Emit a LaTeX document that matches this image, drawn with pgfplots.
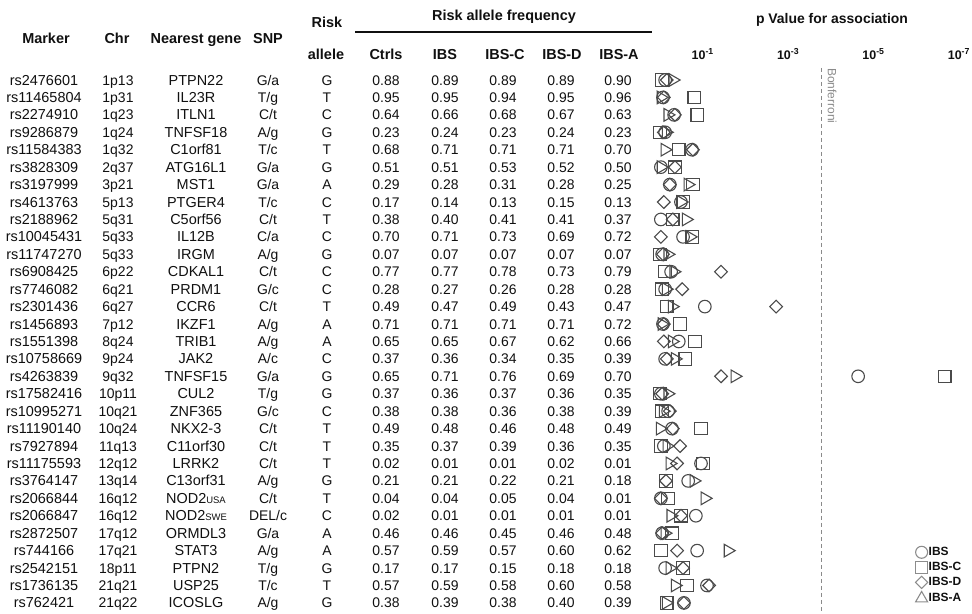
\documentclass[border=0pt]{standalone}
\usepackage{fontspec}
\setmainfont{Liberation Sans}
\usepackage{pgfplots}
\pgfplotsset{compat=1.18}
\usepackage{pgfplotstable}
\definecolor{mk}{HTML}{4A4A4A}
\definecolor{lg}{HTML}{8C8C8C}
\definecolor{bf}{HTML}{8A8A8A}
\definecolor{tx}{HTML}{101010}
\newcommand\smc[1]{{\fontsize{9.5}{9}\selectfont #1}}

% -log10(p) for each marker; pos = -row
\pgfplotstableread{
pos ibs ibsc ibsd ibsa
-1  0.12 0.05 0.16 0.30
-2  0.07 0.80 0.09 0.02
-3  0.33 0.87 0.35 0.18
-4  0.12 0.00 0.09 0.14
-5  0.75 0.44 0.77 0.11
-6  0.02 0.35 0.35 0.02
-7  0.23 0.77 0.23 0.65
-8  0.49 0.54 0.09 0.49
-9  0.02 0.30 0.30 0.61
-10 0.54 0.75 0.02 0.70
-11 0.05 0.00 0.07 0.18
-12 0.26 0.12 1.43 0.32
-13 0.12 0.05 0.52 0.14
-14 1.05 0.16 2.72 0.28
-15 0.07 0.47 0.09 0.04
-16 0.44 0.82 0.09 0.28
-17 0.12 0.59 0.16 0.35
-18 4.64 6.67 1.43 1.75
-19 0.02 0.00 0.05 0.18
-20 0.19 0.05 0.23 0.07
-21 0.28 0.96 0.30 0.00
-22 0.09 0.02 0.47 0.16
-23 0.96 1.01 0.40 0.23
-24 0.66 0.14 0.14 0.79
-25 0.02 0.19 0.02 1.05
-26 0.84 0.49 0.49 0.25
-27 0.05 0.28 0.05 0.11
-28 0.87 0.02 0.40 1.59
-29 0.12 0.54 0.54 0.23
-30 1.10 0.63 1.15 0.35
-31 0.56 0.16 0.56 0.14
}\pvals

\tikzset{
  body/.style={font=\fontsize{14}{16}\selectfont, anchor=base, inner sep=0pt, text=tx},
  head/.style={font=\fontsize{14.5}{17}\selectfont\bfseries, anchor=base, inner sep=0pt, text=tx},
}

\begin{document}
\begin{tikzpicture}
\path[use as bounding box] (0bp,0bp) rectangle (972bp,-614bp);
\begin{scope}[x=1bp,y=-1bp]
  % headers
  \node[head] at (46,43) {Marker};
  \node[head] at (117,43) {Chr};
  \node[head] at (196,43) {Nearest gene};
  \node[head] at (268,43) {SNP};
  \node[head] at (327,27) {Risk};
  \node[head] at (326,59) {allele};
  \node[head] at (504,20) {Risk allele frequency};
  \draw[line width=1.4bp, tx] (355,32) -- (652,32);
  \node[head] at (386,59) {Ctrls};
  \node[head] at (445,59) {IBS};
  \node[head] at (505,59) {IBS-C};
  \node[head] at (562,59) {IBS-D};
  \node[head] at (619,59) {IBS-A};
  \node[head, font=\fontsize{14}{17}\selectfont\bfseries] at (832,23) {p Value for association};
  % rows
  \foreach \i/\m/\c/\g/\s/\r/\fa/\fb/\fc/\fd/\fe in {
1/rs2476601/1p13/PTPN22/{G/a}/G/0.88/0.89/0.89/0.89/0.90,
2/rs11465804/1p31/IL23R/{T/g}/T/0.95/0.95/0.94/0.95/0.96,
3/rs2274910/1q23/ITLN1/{C/t}/C/0.64/0.66/0.68/0.67/0.63,
4/rs9286879/1q24/TNFSF18/{A/g}/G/0.23/0.24/0.23/0.24/0.23,
5/rs11584383/1q32/C1orf81/{T/c}/T/0.68/0.71/0.71/0.71/0.70,
6/rs3828309/2q37/ATG16L1/{G/a}/G/0.51/0.51/0.53/0.52/0.50,
7/rs3197999/3p21/MST1/{G/a}/A/0.29/0.28/0.31/0.28/0.25,
8/rs4613763/5p13/PTGER4/{T/c}/C/0.17/0.14/0.13/0.15/0.13,
9/rs2188962/5q31/C5orf56/{C/t}/T/0.38/0.40/0.41/0.41/0.37,
10/rs10045431/5q33/IL12B/{C/a}/C/0.70/0.71/0.73/0.69/0.72,
11/rs11747270/5q33/IRGM/{A/g}/G/0.07/0.07/0.07/0.07/0.07,
12/rs6908425/6p22/CDKAL1/{C/t}/C/0.77/0.77/0.78/0.73/0.79,
13/rs7746082/6q21/PRDM1/{G/c}/C/0.28/0.27/0.26/0.28/0.28,
14/rs2301436/6q27/CCR6/{C/t}/T/0.49/0.47/0.49/0.43/0.47,
15/rs1456893/7p12/IKZF1/{A/g}/A/0.71/0.71/0.71/0.71/0.72,
16/rs1551398/8q24/TRIB1/{A/g}/A/0.65/0.65/0.67/0.62/0.66,
17/rs10758669/9p24/JAK2/{A/c}/C/0.37/0.36/0.34/0.35/0.39,
18/rs4263839/9q32/TNFSF15/{G/a}/G/0.65/0.71/0.76/0.69/0.70,
19/rs17582416/10p11/CUL2/{T/g}/G/0.37/0.36/0.37/0.36/0.35,
20/rs10995271/10q21/ZNF365/{G/c}/C/0.38/0.38/0.36/0.38/0.39,
21/rs11190140/10q24/NKX2-3/{C/t}/T/0.49/0.48/0.46/0.48/0.49,
22/rs7927894/11q13/C11orf30/{C/t}/T/0.35/0.37/0.39/0.36/0.35,
23/rs11175593/12q12/LRRK2/{C/t}/T/0.02/0.01/0.01/0.02/0.01,
24/rs3764147/13q14/C13orf31/{A/g}/G/0.21/0.21/0.22/0.21/0.18,
25/rs2066844/16q12/NOD2\smc{USA}/{C/t}/T/0.04/0.04/0.05/0.04/0.01,
26/rs2066847/16q12/NOD2\smc{SWE}/{DEL/c}/C/0.02/0.01/0.01/0.01/0.01,
27/rs2872507/17q12/ORMDL3/{G/a}/A/0.46/0.46/0.45/0.46/0.48,
28/rs744166/17q21/STAT3/{A/g}/A/0.57/0.59/0.57/0.60/0.62,
29/rs2542151/18p11/PTPN2/{T/g}/G/0.17/0.17/0.15/0.18/0.18,
30/rs1736135/21q21/USP25/{T/c}/T/0.57/0.59/0.58/0.60/0.58,
31/rs762421/21q22/ICOSLG/{A/g}/G/0.38/0.39/0.38/0.40/0.39%
  }{
    \pgfmathsetmacro\yy{80+(\i-1)*17.43+5}
    \node[body, font=\fontsize{14.5}{16}\selectfont] at (44,\yy) {\m};
    \node[body] at (118,\yy) {\c};
    \node[body, font=\fontsize{14.5}{16}\selectfont] at (196,\yy) {\g};
    \node[body] at (268,\yy) {\s};
    \node[body] at (327,\yy) {\r};
    \node[body] at (386,\yy) {\fa};
    \node[body] at (445,\yy) {\fb};
    \node[body] at (503,\yy) {\fc};
    \node[body] at (561,\yy) {\fd};
    \node[body] at (618,\yy) {\fe};
  }
\end{scope}
\begin{axis}[
  at={(638.65bp,-66.06bp)}, anchor=north west,
  scale only axis, width=333.06bp, height=547.3bp,
  xmin=-0.5, xmax=7.3, ymin=-31.6, ymax=-0.2,
  axis line style={draw=none},
  major tick length=0pt,
  major tick style={draw=none},
  ytick=\empty,
  xtick={1,3,5,7},
  xticklabels={{10\textsuperscript{-1}},{10\textsuperscript{-3}},{10\textsuperscript{-5}},{10\textsuperscript{-7}}},
  xticklabel pos=upper,
  xticklabel style={anchor=center, yshift=12bp, font=\fontsize{12.5}{13}\selectfont\bfseries, text=tx, inner sep=0pt},
  clip=false,
  legend style={draw=none, fill=none, at={(axis cs:5.98,-27.74)}, anchor=north west,
    font=\fontsize{12}{12}\selectfont\bfseries, row sep=3bp, inner sep=0pt,
    nodes={inner sep=1bp, text=tx}},
  legend cell align=left,
  legend image code/.code={\draw[#1] plot coordinates {(0bp,0bp)};},
]
\addplot[forget plot, bf, line width=1.2bp, dash pattern=on 4bp off 3bp] coordinates {(3.79,-0.31) (3.79,-31.45)};
\node[rotate=-90, anchor=west, font=\fontsize{12}{12}\selectfont, text=bf, inner sep=0pt] at (axis cs:4.03,-0.31) {Bonferroni};

\addplot[forget plot, only marks, mark=o, mark size=6.3bp, mk, line width=1.1bp] table[x=ibs,y=pos]{\pvals};
\addplot[forget plot, only marks, mark=square, mark size=6.2bp, mk, line width=1.1bp] table[x=ibsc,y=pos]{\pvals};
\addplot[forget plot, only marks, mark=square, mark size=4.5bp, mark options={rotate=45}, mk, line width=1.1bp] table[x=ibsd,y=pos]{\pvals};
\addplot[forget plot, only marks, mark=triangle, mark size=7.3bp, mark options={rotate=-90}, mk, line width=1.1bp] table[x=ibsa,y=pos]{\pvals};

\addlegendimage{mark=o, mark size=6bp, lg, line width=1.1bp}
\addlegendentry{IBS}
\addlegendimage{mark=square, mark size=6bp, lg, line width=1.1bp}
\addlegendentry{IBS-C}
\addlegendimage{mark=square, mark size=4.3bp, mark options={rotate=45}, lg, line width=1.1bp}
\addlegendentry{IBS-D}
\addlegendimage{mark=triangle, mark size=7bp, lg, line width=1.1bp}
\addlegendentry{IBS-A}
\end{axis}
\end{tikzpicture}
\end{document}
